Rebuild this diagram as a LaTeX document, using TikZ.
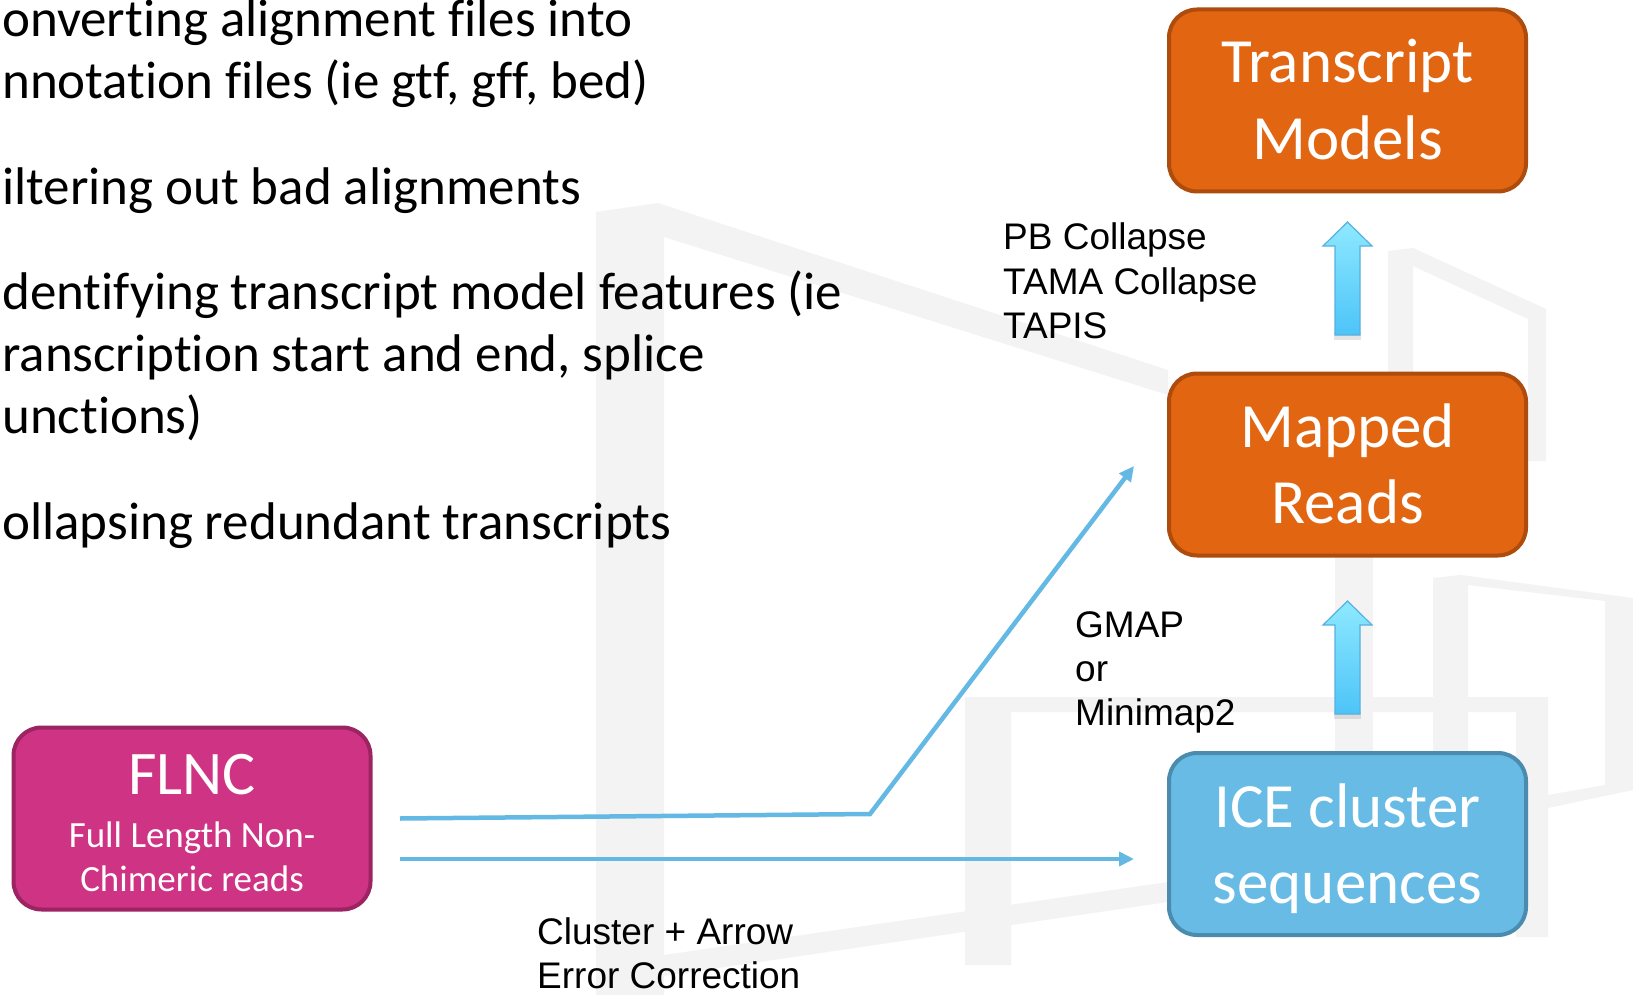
\documentclass[tikz,border=0pt]{standalone}
\usepackage{fontspec}
\setmainfont{Carlito}[Ligatures=NoCommon]
\newfontfamily\labelfont{Liberation Sans}
\usetikzlibrary{arrows.meta}

\definecolor{wm}{RGB}{243,243,243}
\definecolor{orfill}{RGB}{226,102,17}
\definecolor{ordraw}{RGB}{173,76,12}
\definecolor{icefill}{RGB}{104,187,228}
\definecolor{icedraw}{RGB}{74,139,174}
\definecolor{flncfill}{RGB}{206,51,132}
\definecolor{flncdraw}{RGB}{156,36,99}
\definecolor{flowblue}{RGB}{100,185,228}
\definecolor{uptop}{RGB}{142,233,255}
\definecolor{upbot}{RGB}{77,196,248}
\definecolor{upedge}{RGB}{88,176,222}

\begin{document}
\begin{tikzpicture}[x=1pt,y=-1pt,
  stagebox/.style={rounded corners=28pt, line width=4pt, minimum width=357pt,
    minimum height=182pt, inner sep=0pt},
  orangebox/.style={stagebox, fill=orfill, draw=ordraw},
  icebox/.style={stagebox, fill=icefill, draw=icedraw},
  flncbox/.style={stagebox, fill=flncfill, draw=flncdraw},
  boxtext/.style={text=white, font=\fontsize{63}{76}\selectfont, inner sep=0pt, anchor=base},
  subtext/.style={text=white, font=\fontsize{37}{44}\selectfont, inner sep=0pt, anchor=base},
  notetext/.style={font=\fontsize{53}{62}\selectfont, inner sep=0pt, anchor=base west},
  steplabel/.style={font=\labelfont\fontsize{37}{44}\selectfont, inner sep=0pt, anchor=base west},
  flowline/.style={draw=flowblue, line width=4.5pt, -{Triangle[length=15pt,width=14pt]}},
  upblock/.pic={
    \fill[black, opacity=0.10] (-13.5,110) rectangle (13.5,118);
    \shade[top color=uptop, bottom color=upbot, draw=upedge, line width=1.2pt]
      (0,0) -- (24.5,24) -- (12.5,24) -- (12.5,113) -- (-12.5,113)
      -- (-12.5,24) -- (-24.5,24) -- cycle;
  }
]
\useasboundingbox (0,0) rectangle (1633,995);
\fill[white] (0,0) rectangle (1633,995);

% faint building outline in the background
\fill[wm] (596,212) -- (658,203) -- (1168,370) -- (1168,395) -- (664,237)
  -- (664,995) -- (596,995) -- cycle;
\fill[wm] (664,955) -- (1168,882) -- (1168,902) -- (664,976) -- cycle;
\fill[wm] (965,697) -- (1548,697) -- (1548,937) -- (1516,937) -- (1516,712)
  -- (1011,712) -- (1011,965) -- (965,965) -- cycle;
\fill[wm] (1335,557) rectangle (1373,752);
\fill[wm] (1388,251) -- (1413,248) -- (1546,309) -- (1546,461) -- (1528,461)
  -- (1528,319) -- (1413,266) -- (1413,372) -- (1388,372) -- cycle;
\fill[wm] (1433,578) -- (1461,575) -- (1633,598) -- (1633,790) -- (1548,808)
  -- (1548,795) -- (1605,785) -- (1605,601) -- (1468,585) -- (1468,752)
  -- (1433,752) -- cycle;

% list of processing steps
\node[notetext] (n1) at (2,37)  {onverting alignment files into};
\node[notetext] (n2) at (2,99)  {nnotation files (ie gtf, gff, bed)};
\node[notetext] (n3) at (2,205) {iltering out bad alignments};
\node[notetext] (n4) at (2,309) {dentifying transcript model features (ie};
\node[notetext] (n5) at (2,371) {ranscription start and end, splice};
\node[notetext] (n6) at (2,433) {unctions)};
\node[notetext] (n7) at (2,539) {ollapsing redundant transcripts};

% pipeline stages
\node[orangebox] (tm)   at (1347.5,100.5) {};
\node[orangebox] (mr)   at (1347.5,464.5) {};
\node[icebox]    (ice)  at (1347.5,844)   {};
\node[flncbox]   (flnc) at (192,818.5)    {};

\node[boxtext] (tm1) at (1347.5,83)  {Transcript};
\node[boxtext] (tm2) at (1347.5,160) {Models};
\node[boxtext] (mr1) at (1347.5,447) {Mapped};
\node[boxtext] (mr2) at (1347.5,523) {Reads};
\node[boxtext] (ic1) at (1347.5,827) {ICE cluster};
\node[boxtext] (ic2) at (1347.5,903) {sequences};
\node[boxtext, font=\fontsize{62}{74}\selectfont] (fl1) at (192,794) {FLNC};
\node[subtext] (fl2) at (192,847) {Full Length Non-};
\node[subtext] (fl3) at (192,891) {Chimeric reads};

% block arrows between stages
\pic at ([yshift=-28.5pt]tm.south) {upblock};
\pic at ([yshift=-43.5pt]mr.south) {upblock};

% flows out of the FLNC reads
\coordinate (bend) at (870,814);
\draw[flowline] ([xshift=27.5pt]flnc.east) -- (bend)
  -- ([xshift=-33pt,yshift=-1.5pt]mr.west);
\coordinate (lowstart) at ([xshift=27.5pt,yshift=-40.5pt]flnc.east);
\draw[flowline, shorten >=33pt] (lowstart) -- (lowstart -| ice.west);

% step labels
\node[steplabel] (pb)  at (1003,250) {PB Collapse};
\node[steplabel] (tc)  at (1003,294) {TAMA Collapse};
\node[steplabel] (tp)  at (1003,338) {TAPIS};
\node[steplabel] (gm)  at (1075,637) {GMAP};
\node[steplabel] (orr) at (1075,681) {or};
\node[steplabel] (mm)  at (1075,725) {Minimap2};
\node[steplabel] (cl)  at (537,944)  {Cluster + Arrow};
\node[steplabel] (ec)  at (537,988)  {Error Correction};
\end{tikzpicture}
\end{document}
